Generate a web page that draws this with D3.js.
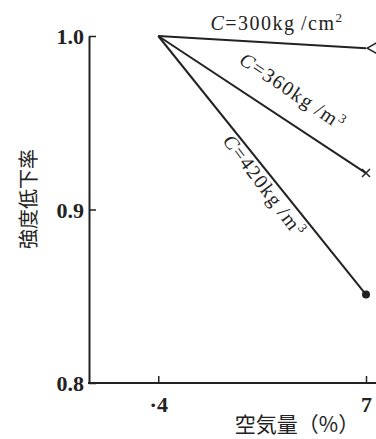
<!DOCTYPE html>
<html>
<head>
<meta charset="utf-8">
<script src="https://cdn.jsdelivr.net/npm/d3@7"></script>
<style>
  body { margin: 0; background: #fff; }
  svg { display: block; }
  text { fill: #222; }
</style>
</head>
<body>
<svg id="chart" width="376" height="439"></svg>
<script>
// air content (%) at the two measured points
var airContent = [4, 7];
// strength ratio per cement content
var seriesNames = ["C=300kg/cm²", "C=360kg/m³", "C=420kg/m³"];
var ratio300 = [1.0, 0.993];
var ratio360 = [1.0, 0.921];
var ratio420 = [1.0, 0.851];
var markers = ["triangle", "cross", "circle"];

var xTicks = [4, 7];
var xTickLabels = ["·4", "7"];
var yTicks = [0.8, 0.9, 1.0];
var yTickLabels = ["0.8", "0.9", "1.0"];
var xTitle = "空気量（%）";
var yTitle = "強度低下率";

var svg = d3.select("#chart");
var W = +svg.attr("width"), H = +svg.attr("height");

var x = d3.scaleLinear().domain([3, 7]).range([89, 366]);
var y = d3.scaleLinear().domain([0.8, 1.0]).range([383, 36]);

var ink = "#222";
var serif = "'Liberation Serif', 'DejaVu Serif', serif";

// y axis, ticks pointing inward
var yAxis = d3.axisLeft(y)
	.tickValues(yTicks)
	.tickFormat(function(d, i) { return yTickLabels[i]; })
	.tickSize(-7)
	.tickSizeOuter(0)
	.tickPadding(5);
var gy = svg.append("g").attr("transform", "translate(" + x(3) + ",0)").call(yAxis);
gy.select(".domain").attr("stroke", ink).attr("stroke-width", 2);
gy.selectAll(".tick line").attr("stroke", ink).attr("stroke-width", 1.5);
gy.selectAll(".tick text")
	.attr("font-family", serif).attr("font-size", 22).attr("font-weight", "bold")
	.attr("fill", ink).attr("dy", "0.35em");

// x axis, line runs off the right edge
var xAxis = d3.axisBottom(x)
	.tickValues(xTicks)
	.tickFormat(function(d, i) { return xTickLabels[i]; })
	.tickSize(-7)
	.tickSizeOuter(0)
	.tickPadding(13);
var gx = svg.append("g").attr("transform", "translate(0," + y(0.8) + ")").call(xAxis);
gx.select(".domain").remove();
gx.append("line")
	.attr("x1", x(3) - 1).attr("x2", W)
	.attr("y1", 0).attr("y2", 0)
	.attr("stroke", ink).attr("stroke-width", 2);
gx.selectAll(".tick line").attr("stroke", ink).attr("stroke-width", 1.5);
gx.selectAll(".tick text")
	.attr("font-family", serif).attr("font-size", 22).attr("font-weight", "bold")
	.attr("fill", ink);

// axis titles
svg.append("text")
	.attr("x", 297).attr("y", 432)
	.attr("text-anchor", "middle")
	.attr("font-family", "'Noto Sans CJK JP', sans-serif")
	.attr("font-size", 21)
	.text(xTitle);

svg.append("text")
	.attr("transform", "translate(36,199) rotate(-90)")
	.attr("text-anchor", "middle")
	.attr("font-family", "'Noto Sans CJK JP', sans-serif")
	.attr("font-size", 20)
	.text(yTitle);

// lines
var allSeries = [ratio300, ratio360, ratio420];
var line = d3.line()
	.x(function(d, i) { return x(airContent[i]); })
	.y(function(d) { return y(d); });

svg.selectAll("path.series")
	.data(allSeries)
	.enter()
	.append("path")
	.attr("class", "series")
	.attr("d", line)
	.attr("fill", "none")
	.attr("stroke", ink)
	.attr("stroke-width", 2);

// end markers
allSeries.forEach(function(s, k) {
	var px = x(airContent[1]), py = y(s[1]);
	if (markers[k] == "triangle") {
		svg.append("path")
			.attr("transform", "translate(" + (px + 8) + "," + py + ") rotate(-90)")
			.attr("d", d3.symbol().type(d3.symbolTriangle).size(60))
			.attr("fill", "#fff").attr("stroke", ink).attr("stroke-width", 1.5);
	} else if (markers[k] == "cross") {
		svg.append("path")
			.attr("d", "M" + (px - 4) + "," + (py - 4) + "L" + (px + 4) + "," + (py + 4) +
				"M" + (px - 4) + "," + (py + 4) + "L" + (px + 4) + "," + (py - 4))
			.attr("stroke", ink).attr("stroke-width", 1.5);
	} else {
		svg.append("circle")
			.attr("cx", px).attr("cy", py).attr("r", 4)
			.attr("fill", ink);
	}
});

// series labels set along the lines
function seriesLabel(txt, cx, cy, angle, size) {
	var m = txt.match(/^C(=\d+kg)(\/)((?:cm|m))(.)$/);
	var t = svg.append("text")
		.attr("transform", "translate(" + cx + "," + cy + ") rotate(" + angle + ")")
		.attr("text-anchor", "middle")
		.attr("font-family", serif)
		.attr("font-size", size)
		.attr("letter-spacing", 1.5);
	t.append("tspan").attr("font-style", "italic").text("C");
	t.append("tspan").text(m[1] + "\u2009" + m[2] + m[3]);
	t.append("tspan").attr("font-size", size * 0.65).attr("dy", -size * 0.38).text(m[4] == "²" ? "2" : "3");
}
seriesLabel(seriesNames[0], 277, 30, 0, 20);
seriesLabel(seriesNames[1], 289, 97, 34, 20);
seriesLabel(seriesNames[2], 259, 190, 53, 20);
</script>
</body>
</html>
